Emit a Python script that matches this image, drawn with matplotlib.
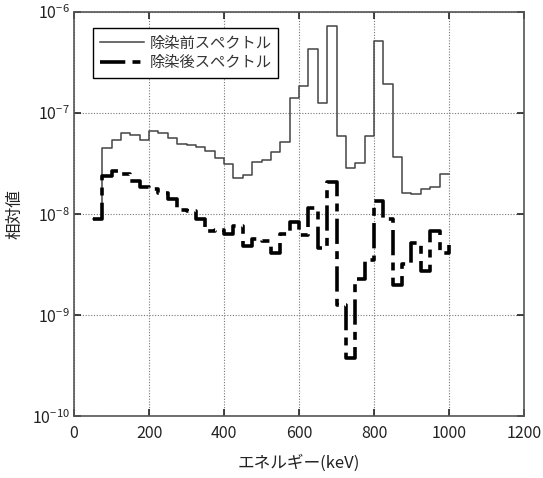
import matplotlib
matplotlib.use("Agg")
import matplotlib.pyplot as plt
import numpy as np

plt.rcParams['font.family'] = ['Noto Sans CJK JP', 'DejaVu Sans']
plt.rcParams['mathtext.fontset'] = 'custom'
plt.rcParams['mathtext.rm'] = 'Noto Sans CJK JP'

# bin edges (keV), stairs style: value i spans energy[i]..energy[i+1]
energy = list(range(50, 1001, 25))

before = [9.0e-9, 4.5e-8, 5.4e-8, 6.3e-8, 6.1e-8, 5.4e-8, 6.6e-8, 6.3e-8, 5.65e-8, 5.0e-8,
          4.85e-8, 4.65e-8, 4.25e-8, 3.6e-8, 3.15e-8, 2.3e-8, 2.42e-8, 3.3e-8, 3.43e-8, 4.15e-8,
          5.2e-8, 1.41e-7, 1.84e-7, 4.3e-7, 1.26e-7, 7.3e-7, 5.9e-8, 2.85e-8, 3.2e-8, 5.95e-8,
          5.15e-7, 1.94e-7, 3.7e-8, 1.63e-8, 1.57e-8, 1.76e-8, 1.85e-8, 2.48e-8, 2.48e-8]

after = [9.0e-9, 2.4e-8, 2.7e-8, 2.5e-8, 2.15e-8, 1.87e-8, 1.76e-8, 1.62e-8, 1.4e-8, 1.1e-8,
         1.08e-8, 9.0e-9, 6.9e-9, 7.0e-9, 6.4e-9, 7.6e-9, 4.8e-9, 5.7e-9, 5.4e-9, 4.15e-9,
         6.4e-9, 8.3e-9, 6.3e-9, 1.16e-8, 4.6e-9, 2.08e-8, 1.27e-9, 3.75e-10, 2.3e-9, 3.55e-9,
         1.34e-8, 8.9e-9, 2.0e-9, 3.2e-9, 5.2e-9, 2.75e-9, 6.8e-9, 4.1e-9, 5.0e-9]

labels = ['除染前スペクトル', '除染後スペクトル']
xticks = [0, 200, 400, 600, 800, 1000, 1200]
yticks = [1e-10, 1e-9, 1e-8, 1e-7, 1e-6]

fig = plt.figure(figsize=(5.43, 4.78), dpi=100)
ax = fig.add_axes([0.1363, 0.1287, 0.8287, 0.8462])

ax.step(energy, before, where='post', color='#444444', lw=1.1, label=labels[0])
ax.step(energy, after, where='post', color='black', lw=2.6,
        linestyle=(0, (7, 2, 2.2, 2)), label=labels[1])

ax.set_yscale('log')
ax.set_xlim(0, 1200)
ax.set_ylim(1e-10, 1e-6)
ax.set_xticks(xticks)
ax.set_yticks(yticks)
ax.yaxis.set_minor_locator(matplotlib.ticker.NullLocator())
ax.grid(True, which='major', linestyle=(0, (1, 1.5)), color='#777777', lw=0.8)
ax.tick_params(direction='in', length=5, width=1.2, top=True, right=True,
               labelsize=11.5, colors='#222222')
ax.tick_params(axis='x', pad=6)
ax.tick_params(axis='y', pad=3)
for s in ax.spines.values():
    s.set_color('#555555')
    s.set_linewidth(1.2)

ax.set_xlabel('エネルギー(keV)', fontsize=12, labelpad=9, color='#222222')
ax.set_ylabel('相対値', fontsize=12, labelpad=6, color='#222222')

leg = ax.legend(loc='upper left', bbox_to_anchor=(0.042, 0.961), fontsize=11,
                frameon=True, fancybox=False, edgecolor='black', framealpha=1,
                handlelength=2.9, handletextpad=0.35, borderpad=0.45, labelspacing=0.15,
                borderaxespad=0)
leg.get_frame().set_linewidth(1.0)
for t in leg.get_texts():
    t.set_color('#333333')

fig.savefig('out.png', dpi=100)
